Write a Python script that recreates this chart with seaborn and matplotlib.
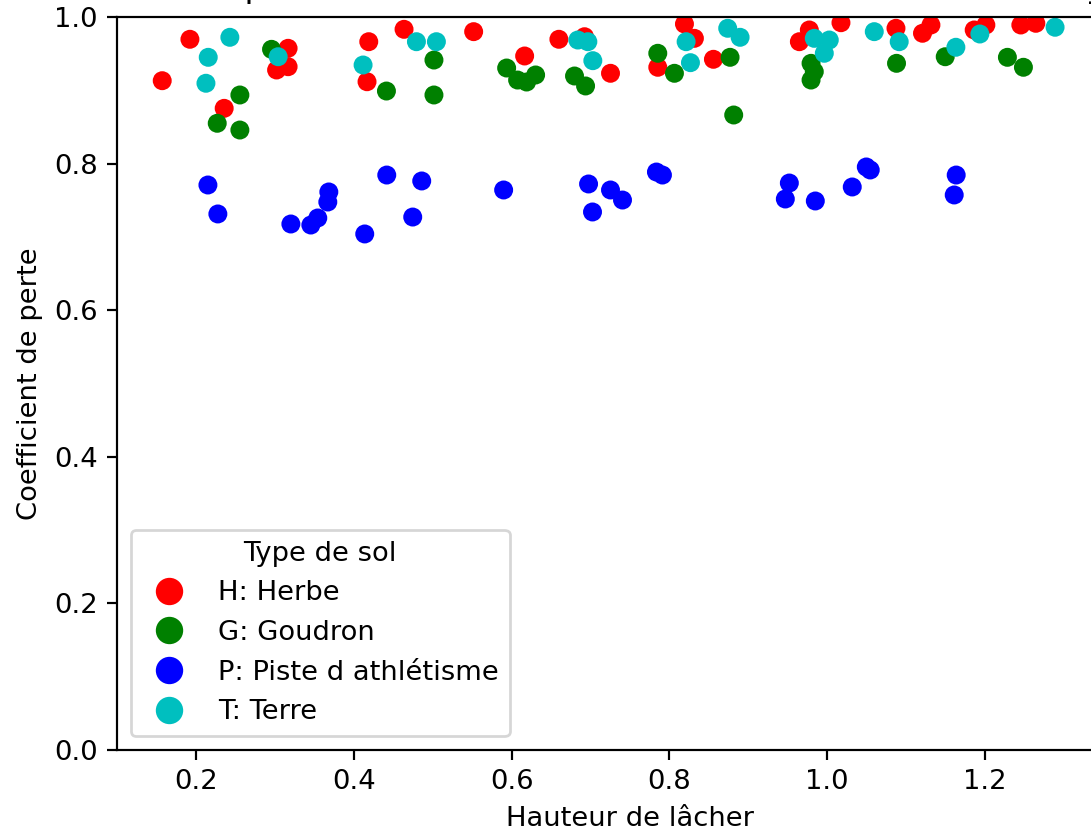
import matplotlib
matplotlib.use("Agg")
import matplotlib.pyplot as plt
from matplotlib.lines import Line2D
import seaborn as sns
import pandas as pd

# --- data ---
herbe_x = [0.1924, 0.1573, 0.2358, 0.3168, 0.3022, 0.3168, 0.4190, 0.4637, 0.5519, 0.4168,
           0.6165, 0.6599, 0.6924, 0.7253, 0.7852, 0.8190, 0.8316, 0.8557, 0.9646, 0.9772,
           1.0173, 1.0870, 1.1206, 1.1313, 1.1861, 1.2009, 1.2452, 1.2642]
herbe_y = [0.9696, 0.9131, 0.8754, 0.9573, 0.9277, 0.9322, 0.9663, 0.9832, 0.9800, 0.9117,
           0.9468, 0.9696, 0.9731, 0.9232, 0.9314, 0.9905, 0.9709, 0.9423, 0.9663, 0.9823,
           0.9922, 0.9846, 0.9778, 0.9891, 0.9823, 0.9891, 0.9891, 0.9914]

goudron_x = [0.2958, 0.2557, 0.2270, 0.2557, 0.4414, 0.5016, 0.5016, 0.5937, 0.6076, 0.6190,
             0.6304, 0.6797, 0.6937, 0.7852, 0.8063, 0.8768, 0.8814, 0.9794, 0.9835, 0.9794,
             1.0877, 1.1494, 1.2282, 1.2485]
goudron_y = [0.9559, 0.8936, 0.8550, 0.8458, 0.8990, 0.9413, 0.8936, 0.9304, 0.9140, 0.9113,
             0.9209, 0.9195, 0.9059, 0.9505, 0.9232, 0.9450, 0.8663, 0.9368, 0.9254, 0.9140,
             0.9368, 0.9458, 0.9450, 0.9314]

piste_x = [0.2152, 0.2278, 0.3203, 0.3456, 0.3544, 0.3671, 0.3684, 0.4418, 0.4139, 0.4861,
           0.4747, 0.5899, 0.6975, 0.7025, 0.7253, 0.7405, 0.7835, 0.7911, 0.9519, 0.9468,
           0.9848, 1.0316, 1.0494, 1.0544, 1.1633, 1.1608]
piste_y = [0.7708, 0.7313, 0.7176, 0.7162, 0.7258, 0.7476, 0.7613, 0.7844, 0.7040, 0.7763,
           0.7271, 0.7640, 0.7722, 0.7340, 0.7640, 0.7503, 0.7885, 0.7844, 0.7735, 0.7517,
           0.7490, 0.7681, 0.7954, 0.7913, 0.7844, 0.7572]

terre_x = [0.2430, 0.2156, 0.2127, 0.3042, 0.4794, 0.5047, 0.4118, 0.6839, 0.6966, 0.7029,
           0.8211, 0.8266, 0.8738, 0.8895, 0.9835, 1.0025, 0.9962, 1.0595, 1.0911, 1.1629,
           1.1933, 1.2886]
terre_y = [0.9723, 0.9450, 0.9096, 0.9458, 0.9663, 0.9663, 0.9345, 0.9686, 0.9663, 0.9404,
           0.9663, 0.9377, 0.9846, 0.9723, 0.9709, 0.9686, 0.9505, 0.9800, 0.9663, 0.9587,
           0.9768, 0.9860]

categories = ["H: Herbe", "G: Goudron", "P: Piste d athlétisme", "T: Terre"]
colors = ["red", "green", "blue", "c"]

title = "Coefficient de perte en fonction de la hauteur de lâcher selon le type de sol"
xlabel = "Hauteur de lâcher"
ylabel = "Coefficient de perte"
legend_title = "Type de sol"
x_ticks = [0.2, 0.4, 0.6, 0.8, 1.0, 1.2]
y_ticks = [0.0, 0.2, 0.4, 0.6, 0.8, 1.0]

# --- build table ---
frames = []
for cat, xs, ys in zip(categories,
                       [herbe_x, goudron_x, piste_x, terre_x],
                       [herbe_y, goudron_y, piste_y, terre_y]):
    frames.append(pd.DataFrame({"x": xs, "y": ys, legend_title: cat}))
df = pd.concat(frames, ignore_index=True)

DPI = 197
fig = plt.figure(figsize=(1091 / DPI, 833 / DPI), dpi=DPI)
ax = fig.add_axes([117 / 1091, 83 / 833, 1026 / 1091, 733 / 833])

sns.scatterplot(data=df, x="x", y="y", hue=legend_title, hue_order=categories,
                palette=dict(zip(categories, colors)), s=48, linewidth=0,
                ax=ax, legend=False)

ax.set_xlim(0.1, 1.4)
ax.set_ylim(0.0, 1.0)
ax.set_xticks(x_ticks)
ax.set_yticks(y_ticks)
ax.set_xlabel(xlabel)
ax.set_ylabel(ylabel)
ax.set_title(title, pad=7.3)

handles = [Line2D([], [], marker="o", linestyle="", color=c, markersize=9, label=cat)
           for cat, c in zip(categories, colors)]
ax.legend(handles=handles, title=legend_title, loc="lower left")

fig.savefig("out.png", dpi=DPI)
